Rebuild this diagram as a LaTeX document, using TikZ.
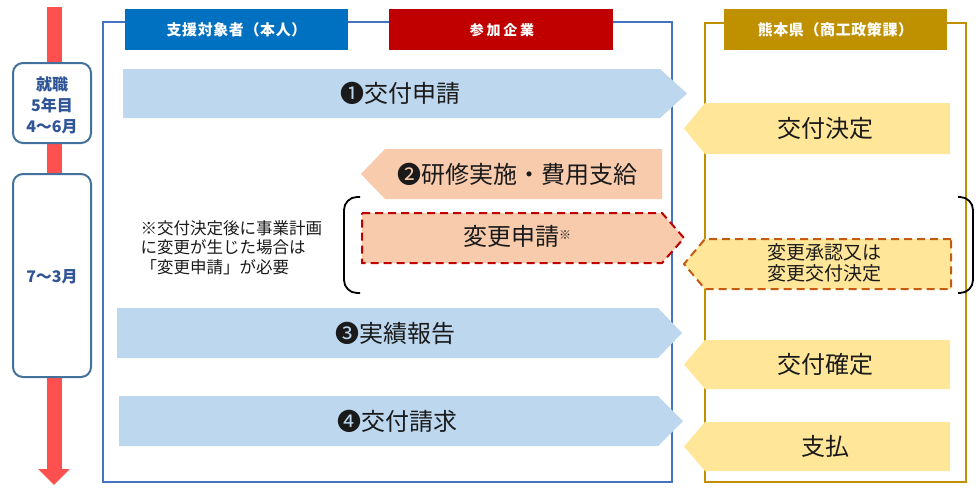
\documentclass[tikz,border=0pt]{standalone}
\usepackage{fontspec}
\setmainfont{Noto Sans CJK JP}
\usepackage{tikz}
\usepackage{xcolor}
\usetikzlibrary{arrows.meta}
\definecolor{Pale_Blue}{HTML}{BDD7EE}
\definecolor{Pale_Salmon}{HTML}{F8CBAD}
\definecolor{Pale_Yellow}{HTML}{FFE699}
\definecolor{Frame_Blue}{HTML}{4472C4}
\definecolor{Head_Blue}{HTML}{0070C0}
\definecolor{Head_Red}{HTML}{C00000}
\definecolor{Pref_Gold}{HTML}{BF9000}
\definecolor{Dash_Orange}{HTML}{C55A11}
\definecolor{Time_Red}{HTML}{FF5050}
\definecolor{Box_Edge}{HTML}{41719C}
\definecolor{Time_Text}{HTML}{2F5597}
\definecolor{Ink}{HTML}{1A1A1A}

\begin{document}
\begin{tikzpicture}[x=1pt, y=-1pt,
    periodbox/.style={draw=Box_Edge, line width=2pt, fill=white, rounded corners=10pt},
    periodtext/.style={font=\fontsize{16}{21}\selectfont\bfseries, text=Time_Text, align=center},
    headtext/.style={font=\fontsize{15}{18}\selectfont\bfseries\addfontfeature{LetterSpace=4}, text=white},
    bigtext/.style={font=\fontsize{24}{28}\selectfont, text=Ink},
    notetext/.style={font=\fontsize{16.5}{19.5}\selectfont, text=Ink, align=left, anchor=west},
    dashedge/.style={line width=2pt, dash pattern=on 8pt off 5pt},
    bracket/.style={draw=black, line width=1.8pt}]

    \useasboundingbox (0,0) rectangle (978,496);

    % Timeline (red bar with arrow head)
    \coordinate (tl top) at (54,7);
    \coordinate (tl end) at (54,485);
    \draw[Time_Red, line width=15pt, -{Triangle[width=31pt,length=16pt]}] (tl top) -- (tl end);

    % Period boxes on the timeline
    \draw[periodbox] (13,63) rectangle (91,143);
    \node[periodtext] (period1) at (52,105) {就職\\5年目\\4～6月};
    \draw[periodbox] (13,174) rectangle (91,377);
    \node[periodtext] (period2) at (52,277) {7～3月};

    % Frames: applicant / company and prefecture
    \draw[Frame_Blue, line width=2pt] (103,22) rectangle (672,482);
    \draw[Pref_Gold, line width=2pt] (705,23) rectangle (966,482);

    % Column headers
    \fill[Head_Blue] (125,9) rectangle (348,50);
    \node[headtext] (head1) at (236.5,30) {支援対象者（本人）};
    \fill[Head_Red] (389,9) rectangle (613,50);
    \node[headtext, font=\fontsize{14}{17}\selectfont\bfseries\addfontfeature{LetterSpace=20}] (head2) at (502,30) {参加企業};
    \fill[Pref_Gold] (724,9) rectangle (947,50);
    \node[headtext] (head3) at (835.5,30) {熊本県（商工政策課）};

    % Step 1: grant application (to the right)
    \fill[Pale_Blue] (123,69) -- (660,69) -- (687,93.5) -- (660,118) -- (123,118) -- cycle;
    \node[bigtext] (apply) at (400,93) {❶交付申請};

    % Grant decision (to the left)
    \fill[Pale_Yellow] (950,103) -- (705,103) -- (684,128.5) -- (705,154) -- (950,154) -- cycle;
    \node[bigtext] (decide) at (825,128) {交付決定};

    % Step 2: training and payment (to the left)
    \fill[Pale_Salmon] (662,149) -- (385,149) -- (361,174) -- (385,199) -- (662,199) -- cycle;
    \node[bigtext] (train) at (517,174) {❷研修実施・費用支給};

    % Change application (dashed)
    \filldraw[fill=Pale_Salmon, draw=Head_Red, dashedge] (362,213) -- (662,213) -- (684,238) -- (662,263) -- (362,263) -- cycle;
    \node[bigtext] (change) at (517,236) {変更申請{\fontsize{12}{12}\selectfont\raisebox{6pt}{※}}};

    % Change approval (dashed)
    \filldraw[fill=Pale_Yellow, draw=Dash_Orange, dashedge] (951,239) -- (705,239) -- (684,264) -- (705,289) -- (951,289) -- cycle;
    \node[bigtext, font=\fontsize{19}{21}\selectfont, align=center] (approve) at (824,263) {変更承認又は\\変更交付決定};

    % Brackets round the change steps
    \draw[bracket, rounded corners=13pt] (360,197) -- (344,197) -- (344,293) -- (360,293);
    \draw[bracket, rounded corners=13pt] (958,197) -- (973,197) -- (973,293) -- (958,293);

    % Note on changes
    \node[notetext] (note) at (137,247.5) {※交付決定後に事業計画\\に変更が生じた場合は\\「変更申請」が必要};

    % Step 3: performance report (to the right)
    \fill[Pale_Blue] (117,308) -- (658,308) -- (682,333) -- (658,358) -- (117,358) -- cycle;
    \node[bigtext] (report) at (395,333) {❸実績報告};

    % Grant confirmation (to the left)
    \fill[Pale_Yellow] (950,340) -- (705,340) -- (684,364.5) -- (705,389) -- (950,389) -- cycle;
    \node[bigtext] (confirm) at (825,364) {交付確定};

    % Step 4: grant claim (to the right)
    \fill[Pale_Blue] (119,396) -- (658,396) -- (683,421) -- (658,446) -- (119,446) -- cycle;
    \node[bigtext] (claim) at (397,421) {❹交付請求};

    % Payment (to the left)
    \fill[Pale_Yellow] (950,422) -- (705,422) -- (684,446.5) -- (705,471) -- (950,471) -- cycle;
    \node[bigtext] (pay) at (825,446) {支払};

\end{tikzpicture}
\end{document}
